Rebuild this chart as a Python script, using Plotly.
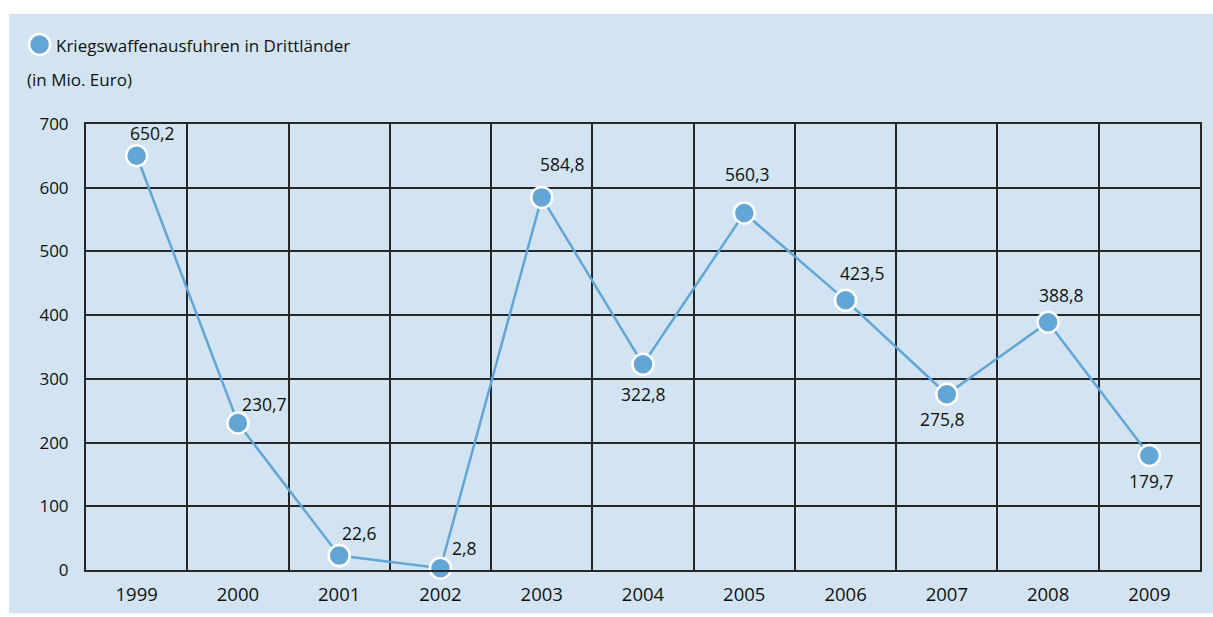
import plotly.graph_objects as go

years = ["1999", "2000", "2001", "2002", "2003", "2004", "2005", "2006", "2007", "2008", "2009"]
values = [650.2, 230.7, 22.6, 2.8, 584.8, 322.8, 560.3, 423.5, 275.8, 388.8, 179.7]
labels = ["650,2", "230,7", "22,6", "2,8", "584,8", "322,8", "560,3", "423,5", "275,8", "388,8", "179,7"]
y_ticks = [0, 100, 200, 300, 400, 500, 600, 700]

series_name = "Kriegswaffenausfuhren in Drittländer"
unit_text = "(in Mio. Euro)"

# label offsets (px) relative to each point
label_dx = [16, 27, 20, 24, 21, 0, 3, 17, -4, 13, 2]
label_dy = [23, 19, 23, 20, 33, -30, 39, 27, -25, 27, -25]

W, H = 1213, 617
ML, MT = 86, 124
PW, PH = 1116, 454
MR, MB = W - ML - PW, H - MT - PH

def px_x(px):
    return (px - ML) / PW

def px_y(py):
    return (MT + PH - py) / PH

BG = "#d2e4f2"
BLUE = "#63a5d4"
GRID = "#262626"
FONT = "Open Sans"
TXT = "#111111"

x_idx = list(range(len(years)))

fig = go.Figure()
fig.add_trace(go.Scatter(
    x=x_idx, y=values, mode="lines+markers",
    line=dict(color=BLUE, width=2.5),
    marker=dict(size=21, color=BLUE, line=dict(color="white", width=2.5)),
    showlegend=False, hoverinfo="skip", cliponaxis=False,
))

annotations = []
for i, (v, t) in enumerate(zip(values, labels)):
    annotations.append(dict(
        x=i, y=v, xref="x", yref="y", text=t, showarrow=False,
        xshift=label_dx[i], yshift=label_dy[i],
        font=dict(family=FONT, size=17.5, color=TXT),
    ))

annotations.append(dict(
    x=px_x(54), y=px_y(44), xref="paper", yref="paper", text=series_name,
    showarrow=False, xanchor="left", yanchor="middle",
    font=dict(family=FONT, size=17, color=TXT),
))
annotations.append(dict(
    x=px_x(25), y=px_y(79), xref="paper", yref="paper", text=unit_text,
    showarrow=False, xanchor="left", yanchor="middle",
    font=dict(family=FONT, size=17, color=TXT),
))

shapes = [
    dict(type="rect", xref="paper", yref="paper", layer="below",
         x0=px_x(9), x1=px_x(W + 5), y0=px_y(12), y1=px_y(H + 5),
         fillcolor=BG, line=dict(width=0)),
    dict(type="circle", xref="paper", yref="paper",
         xsizemode="pixel", ysizemode="pixel",
         xanchor=px_x(39.5), yanchor=px_y(43),
         x0=-10.5, x1=10.5, y0=-10.5, y1=10.5,
         fillcolor=BLUE, line=dict(color="white", width=2.5)),
]

fig.update_layout(
    width=W, height=H,
    margin=dict(l=ML, r=MR, t=MT, b=MB, pad=0),
    paper_bgcolor="white", plot_bgcolor=BG,
    font=dict(family=FONT, size=17, color=TXT),
    annotations=annotations, shapes=shapes,
    xaxis=dict(
        range=[-0.5, len(years) - 0.5], tickmode="array", tickvals=x_idx, ticktext=years,
        showgrid=False, zeroline=False, showline=True, mirror=True,
        linecolor=GRID, linewidth=2,
        ticks="outside", ticklen=7, tickcolor="rgba(0,0,0,0)",
        tickfont=dict(family=FONT, size=18.5, color=TXT),
        minor=dict(tickmode="array", tickvals=[i + 0.5 for i in range(-1, len(years))],
                   showgrid=True, gridcolor=GRID, gridwidth=2, ticks=""),
        fixedrange=True,
    ),
    yaxis=dict(
        range=[0, 700], tickmode="array", tickvals=y_ticks,
        showgrid=True, gridcolor=GRID, gridwidth=2, zeroline=False,
        showline=True, mirror=True, linecolor=GRID, linewidth=2,
        ticks="outside", ticklen=12, tickcolor="rgba(0,0,0,0)",
        tickfont=dict(family=FONT, size=17, color=TXT),
        fixedrange=True,
    ),
)

# remove the browser's default 8px body margin so the figure fills the window exactly
fig.write_html(
    "out.html",
    config={"displayModeBar": False, "staticPlot": True},
    post_script="document.body.style.margin='0';",
)
